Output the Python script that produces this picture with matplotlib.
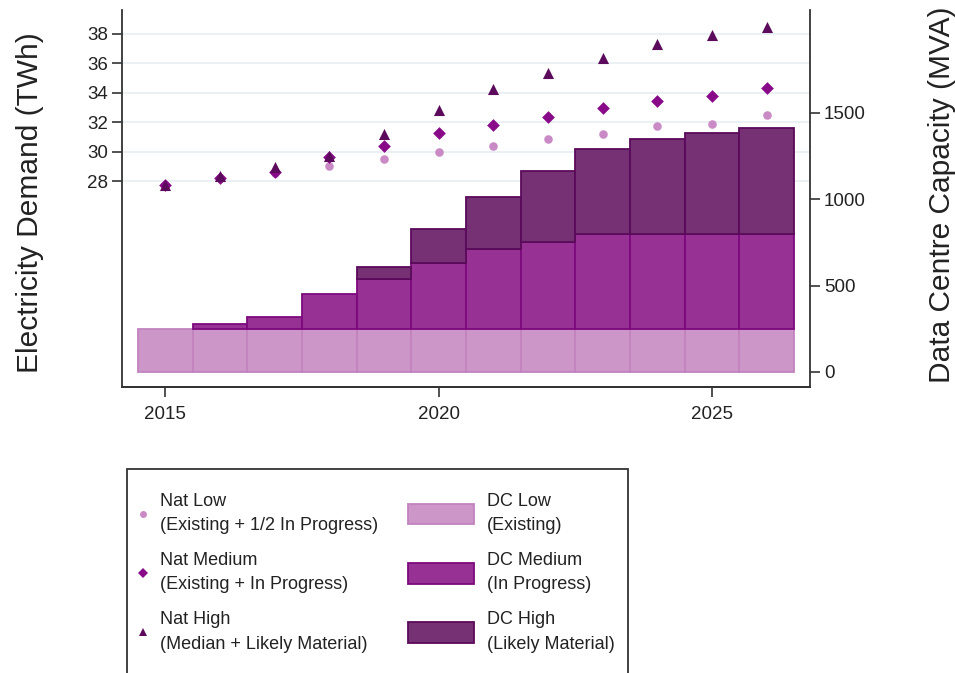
import numpy as np
import matplotlib
matplotlib.use("Agg")
import matplotlib.pyplot as plt
from matplotlib.lines import Line2D
from matplotlib.patches import Patch, Rectangle

# Data
years = [2015, 2016, 2017, 2018, 2019, 2020, 2021, 2022, 2023, 2024, 2025, 2026]

# Data centre capacity (MVA), stacked segments
dc_low = [250, 250, 250, 250, 250, 250, 250, 250, 250, 250, 250, 250]
dc_medium = [0, 28, 69, 200, 287, 380, 461, 505, 548, 548, 548, 548]
dc_high = [0, 0, 0, 0, 73, 200, 305, 411, 492, 550, 588, 617]

# National electricity demand (TWh)
nat_low = [27.7, 28.2, 28.55, 29.0, 29.5, 30.0, 30.4, 30.85, 31.2, 31.75, 31.9, 32.5]
nat_medium = [27.7, 28.2, 28.6, 29.65, 30.4, 31.25, 31.8, 32.35, 32.95, 33.45, 33.75, 34.3]
nat_high = [27.75, 28.35, 28.95, 29.7, 31.2, 32.8, 34.25, 35.35, 36.35, 37.35, 37.95, 38.5]

left_ticks = [28, 30, 32, 34, 36, 38]
right_ticks = [0, 500, 1000, 1500]
x_ticks = [2015, 2020, 2025]

nat_labels = ["Nat Low\n(Existing + 1/2 In Progress)",
              "Nat Medium\n(Existing + In Progress)",
              "Nat High\n(Median + Likely Material)"]
dc_labels = ["DC Low\n(Existing)", "DC Medium\n(In Progress)", "DC High\n(Likely Material)"]

# colours
c_low_face, c_low_edge = "#cc96c9", "#c283bf"
c_med_face, c_med_edge = "#973294", "#7d0a7d"
c_high_face, c_high_edge = "#763175", "#5a0a5a"
c_pt_low, c_pt_med, c_pt_high = "#c98ac6", "#880a88", "#5c0a5c"
txt = "#222222"

plt.rcParams["font.family"] = ["Liberation Sans", "DejaVu Sans"]

fig = plt.figure(figsize=(9.55, 6.73), dpi=100)
ax = fig.add_axes([122 / 955, 1 - 387 / 673, (810 - 122) / 955, (387 - 10) / 673])
ax2 = ax.twinx()

yrs = np.array(years)
low = np.array(dc_low)
med = np.array(dc_medium)
high = np.array(dc_high)

# bars on the right axis
ax2.bar(yrs, low, width=1, color=c_low_face, edgecolor=c_low_edge, linewidth=1.3)
m = med > 0
ax2.bar(yrs[m], med[m], bottom=low[m], width=1, color=c_med_face,
        edgecolor=c_med_edge, linewidth=1.3)
h = high > 0
ax2.bar(yrs[h], high[h], bottom=(low + med)[h], width=1, color=c_high_face,
        edgecolor=c_high_edge, linewidth=1.3)

# points on the left axis, drawn above the bars
ax.set_zorder(ax2.get_zorder() + 1)
ax.patch.set_visible(False)
ax2.patch.set_visible(True)
ax2.patch.set_facecolor("white")
ax.scatter(years, nat_low, marker="o", s=38, color=c_pt_low, linewidths=0, zorder=3)
ax.scatter(years, nat_medium, marker="D", s=42, color=c_pt_med, linewidths=0, zorder=4)
ax.scatter(years, nat_high, marker="^", s=64, color=c_pt_high, linewidths=0, zorder=5)

ylo, yhi = 13.99, 39.63
rlo, rhi = -86.9, 2096.5
ax.set_ylim(ylo, yhi)
ax2.set_ylim(rlo, rhi)
ax.set_xlim(2014.21, 2026.79)

# gridlines sit behind the bars -> drawn on ax2 at the left-axis tick heights
for v in left_ticks:
    ax2.axhline(rlo + (v - ylo) / (yhi - ylo) * (rhi - rlo),
                color="#e6eef1", linewidth=1.2, zorder=0)

ax.set_yticks(left_ticks)
ax2.set_yticks(right_ticks)
ax.set_xticks(x_ticks)

for a in (ax, ax2):
    a.spines["top"].set_visible(False)
    for s in a.spines.values():
        s.set_linewidth(1.3)
        s.set_color("#333333")
    a.tick_params(length=7, width=1.2, color="#333333", labelsize=13.5,
                  labelcolor=txt)
ax.tick_params(axis="y", pad=3)
ax.tick_params(axis="x", pad=7)
ax2.tick_params(axis="y", pad=3)
ax2.spines["left"].set_visible(False)
ax.spines["right"].set_visible(False)

ax.set_ylabel("Electricity Demand (TWh)", fontsize=21.5, color=txt)
ax2.set_ylabel("Data Centre Capacity (MVA)", fontsize=21.5, color=txt)
ax.yaxis.set_label_coords(-0.113, 0.49)
ax2.yaxis.set_label_coords(1.1715, 0.509)

# legend frame (runs off the bottom of the figure)
fig.patches.append(Rectangle((127 / 955, -0.02), (628 - 127) / 955, 1 - 469 / 673 + 0.02,
                             transform=fig.transFigure, fill=False,
                             edgecolor="#333333", linewidth=1.3))

nat_handles = [
    Line2D([], [], marker="o", linestyle="none", markersize=5, color=c_pt_low, markeredgewidth=0),
    Line2D([], [], marker="D", linestyle="none", markersize=5, color=c_pt_med, markeredgewidth=0),
    Line2D([], [], marker="^", linestyle="none", markersize=6, color=c_pt_high, markeredgewidth=0),
]
dc_handles = [
    Patch(facecolor=c_low_face, edgecolor=c_low_edge, linewidth=1.3),
    Patch(facecolor=c_med_face, edgecolor=c_med_edge, linewidth=1.3),
    Patch(facecolor=c_high_face, edgecolor=c_high_edge, linewidth=1.3),
]

leg_fs = 13
leg1 = fig.legend(nat_handles, nat_labels, loc="upper left",
                  bbox_to_anchor=(134 / 955, 1 - 493 / 673), frameon=False,
                  fontsize=leg_fs, handlelength=1.0, handletextpad=0.45,
                  labelspacing=1.0, borderpad=0, borderaxespad=0)
leg2 = fig.legend(dc_handles, dc_labels, loc="upper left",
                  bbox_to_anchor=(408 / 955, 1 - 493 / 673), frameon=False,
                  fontsize=leg_fs, handlelength=66 / (leg_fs * 100 / 72),
                  handleheight=25 / (leg_fs * 100 / 72),
                  handletextpad=0.7, labelspacing=1.0, borderpad=0, borderaxespad=0)
for lg in (leg1, leg2):
    for t in lg.get_texts():
        t.set_color(txt)
        t.set_linespacing(1.55)

fig.savefig("out.png", dpi=100)
